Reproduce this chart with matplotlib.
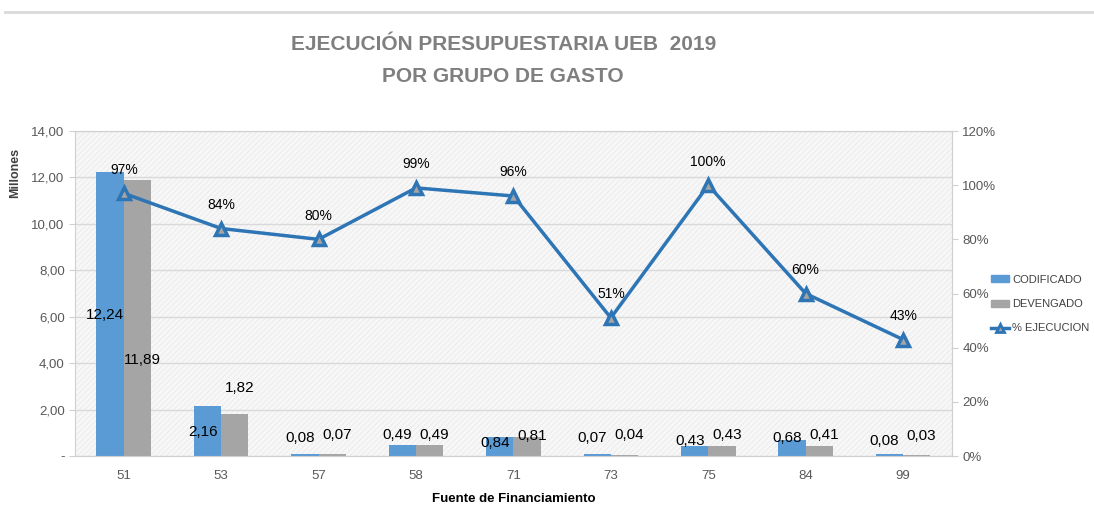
import numpy as np
import matplotlib.pyplot as plt
from matplotlib.lines import Line2D
from matplotlib.patches import Patch

plt.rcParams['font.family'] = ['Liberation Sans Narrow', 'Liberation Sans', 'DejaVu Sans']
plt.rcParams['hatch.color'] = '#e6e6e6'
plt.rcParams['hatch.linewidth'] = 0.5

# data
fuentes = ["51", "53", "57", "58", "71", "73", "75", "84", "99"]
codificado = [12.24, 2.16, 0.08, 0.49, 0.84, 0.07, 0.43, 0.68, 0.08]
devengado = [11.89, 1.82, 0.07, 0.49, 0.81, 0.04, 0.43, 0.41, 0.03]
ejecucion = [97, 84, 80, 99, 96, 51, 100, 60, 43]

# where excel dropped the value labels (in axis units)
lbl_cod_y = [6.07, 1.03, 0.78, 0.9, 0.56, 0.78, 0.65, 0.78, 0.65]
lbl_dev_y = [4.14, 2.93, 0.9, 0.9, 0.86, 0.9, 0.9, 0.9, 0.86]

BLUE = '#5b9bd5'
GRAY = '#a5a5a5'
LINE = '#2e75b6'

fig = plt.figure(figsize=(10.94, 5.11), dpi=100)
fig.add_artist(Line2D([0.005, 1.0], [0.977, 0.977], color='#d9d9d9', lw=2))

ax = fig.add_axes([0.0686, 0.1076, 0.8014, 0.636])
ax.set_facecolor('#f7f7f7')
ax.patch.set_hatch('//////')
ax.patch.set_edgecolor('#e8e8e8')

x = np.arange(len(fuentes))
w = 0.28
ax.bar(x - w / 2, codificado, w, color=BLUE, zorder=2, label='CODIFICADO')
ax.bar(x + w / 2, devengado, w, color=GRAY, zorder=2, label='DEVENGADO')

for i in range(len(fuentes)):
    ax.text(x[i] - w / 2 - 0.05, lbl_cod_y[i], f"{codificado[i]:.2f}".replace('.', ','),
            ha='center', va='center', fontsize=11, zorder=5)
    ax.text(x[i] + w / 2 + 0.05, lbl_dev_y[i], f"{devengado[i]:.2f}".replace('.', ','),
            ha='center', va='center', fontsize=11, zorder=5)

ax.set_xlim(-0.5, len(fuentes) - 0.5)
ax.set_ylim(0, 14)
ax.set_yticks(np.arange(0, 15, 2))
ax.set_yticklabels(['-'] + [f"{v:.2f}".replace('.', ',') for v in np.arange(2, 15, 2)])
ax.set_xticks(x)
ax.set_xticklabels(fuentes)
ax.grid(axis='y', color='#d9d9d9', lw=1, zorder=0)
ax.set_axisbelow(True)
for s in ax.spines.values():
    s.set_color('#d0d0d0')
ax.tick_params(axis='y', colors='#d0d0d0', labelcolor='#595959', labelsize=9.5, length=4)
ax.tick_params(axis='x', length=0, labelcolor='#595959', labelsize=9.5, pad=10)
ax.set_xlabel('Fuente de Financiamiento', fontsize=9.5, fontweight='bold', labelpad=8)
ax.set_ylabel('Millones', fontsize=9, fontweight='bold', color='#404040')
ax.yaxis.set_label_coords(-0.061, 0.87)

ax2 = ax.twinx()
ax2.set_ylim(0, 120)
ax2.set_yticks(np.arange(0, 121, 20))
ax2.set_yticklabels([f"{v}%" for v in range(0, 121, 20)])
ax2.plot(x, ejecucion, color=LINE, lw=2.5, marker='^', markersize=9,
         markerfacecolor='#a5a5a5', markeredgecolor=LINE, markeredgewidth=2.5, zorder=4)
for i, v in enumerate(ejecucion):
    ax2.annotate(f"{v}%", (x[i], v), xytext=(0, 17), textcoords='offset points',
                 ha='center', va='center', fontsize=10)
for s in ax2.spines.values():
    s.set_visible(False)
ax2.spines['right'].set_visible(True)
ax2.spines['right'].set_color('#d0d0d0')
ax2.tick_params(axis='y', colors='#d0d0d0', labelcolor='#595959', labelsize=9.5, length=4)

fig.text(0.460, 0.912, 'EJECUCIÓN PRESUPUESTARIA UEB  2019', ha='center', va='center',
         fontsize=15, fontweight='bold', color='#7f7f7f')
fig.text(0.460, 0.85, 'POR GRUPO DE GASTO', ha='center', va='center',
         fontsize=15, fontweight='bold', color='#7f7f7f')

handles = [Patch(color=BLUE), Patch(color=GRAY),
           Line2D([], [], color=LINE, lw=2.5, marker='^', markersize=6,
                  markerfacecolor='#a5a5a5', markeredgecolor=LINE, markeredgewidth=2)]
fig.legend(handles, ['CODIFICADO', 'DEVENGADO', '% EJECUCION'], loc='center left',
           bbox_to_anchor=(0.902, 0.405), frameon=False, fontsize=8,
           handlelength=1.6, handleheight=0.6, handletextpad=0.3, labelspacing=1.3,
           borderaxespad=0, labelcolor='#404040')

fig.savefig('out.png', dpi=100)
